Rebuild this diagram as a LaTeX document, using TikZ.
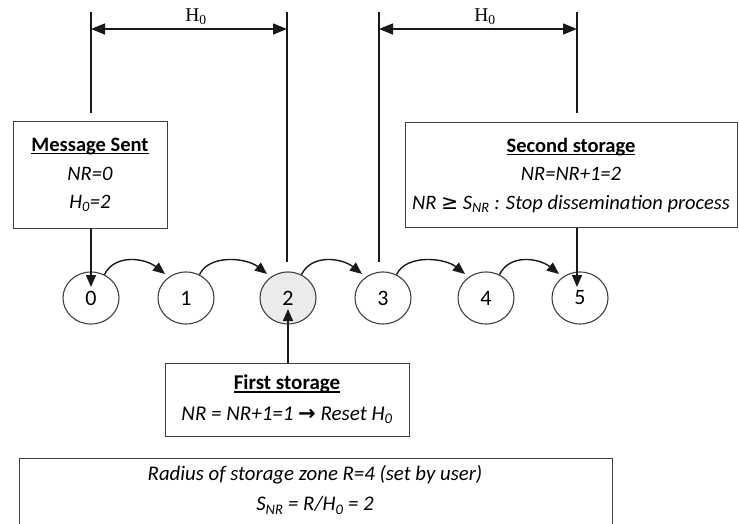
\documentclass[tikz,border=0pt]{standalone}
\usepackage{fontspec}
\setmainfont{Carlito}
\newfontfamily\serifH{Liberation Serif}
\newfontfamily\symf{DejaVu Sans}
\usetikzlibrary{arrows.meta,shapes.geometric}
\newcommand\myul[1]{\setbox0\hbox{#1}\rlap{\rule[-2.8pt]{\wd0}{1.1pt}}\box0}
\begin{document}
\begin{tikzpicture}[x=1pt,y=-1pt,
  arr/.style={-{Triangle[length=12pt,width=10pt]}, line width=1.4pt, draw=black!90},
  dim/.style={{Triangle[length=14pt,width=11pt]}-{Triangle[length=14pt,width=11pt]}, line width=1.4pt, draw=black!90},
  guide/.style={line width=1.4pt, draw=black!90},
  boxline/.style={draw=black!75, line width=1pt},
  box/.style={boxline, fill=white, align=center, inner sep=0pt, font=\fontsize{20.5}{28.5}\selectfont},
  hop/.style={draw=black!75, line width=1.1pt, ellipse, minimum width=56pt, minimum height=52pt, inner sep=0pt, font=\fontsize{22}{24}\selectfont},
  hlabel/.style={font=\serifH\fontsize{19.5}{19.5}\selectfont, inner sep=0pt},
]
\useasboundingbox (0,0) rectangle (739,524);
\clip (0,0) rectangle (739,524);

% hop nodes
\node[hop] (n0) at (91,298) {0};
\node[hop] (n1) at (186,298) {1};
\node[hop, fill=black!8] (n2) at (288,298) {2};
\node[hop] (n3) at (383,298) {3};
\node[hop] (n4) at (486,298) {4};
\node[hop] (n5) at (580,298) {5};

% boxes
\node[box, minimum width=154pt, minimum height=106pt] (sent) at (90,175)
  {\myul{\textbf{Message Sent}}\\\textit{NR=0}\\\textit{H\textsubscript{0}=2}};
\node[box, minimum width=332pt, minimum height=105pt] (second) at (571,175)
  {\myul{\textbf{Second storage}}\\\textit{NR=NR+1=2}\\\textit{NR {\symf≥} S\textsubscript{NR} : Stop dissemination process}};
\node[box, minimum width=244pt, minimum height=73pt, font=\fontsize{21}{31}\selectfont] (first) at (287,399.5)
  {\myul{\textbf{First storage}}\\\textit{NR = NR+1=1 {\symf\bfseries →} Reset H\textsubscript{0}}};

% bottom zone
\node[align=center, inner sep=0pt, font=\fontsize{20.8}{30}\selectfont] (zone) at (315,490)
  {\textit{Radius of storage zone R=4 (set by user)}\\\textit{S\textsubscript{NR} = R/H\textsubscript{0} = 2}};
\draw[boxline] (19,545) |- (612,458) -- (612,545);

% guide lines
\coordinate (g0t) at (91,12);  \coordinate (g0b) at (91,113);
\coordinate (g2t) at (287,12); \coordinate (g2b) at (287,262);
\coordinate (g3t) at (379,12); \coordinate (g3b) at (379,262);
\coordinate (g5t) at (577,12); \coordinate (g5b) at (577,113);
\draw[guide] (g0t) -- (g0b);
\draw[guide] (g2t) -- (g2b);
\draw[guide] (g3t) -- (g3b);
\draw[guide] (g5t) -- (g5b);

% dimension arrows
\coordinate (d0) at (91,29);  \coordinate (d2) at (287,29);
\coordinate (d3) at (379,29); \coordinate (d5) at (577,29);
\draw[dim] (d0) -- (d2);
\draw[dim] (d3) -- (d5);
\node[hlabel] (h1) at (196,17) {H\textsubscript{0}};
\node[hlabel] (h2) at (485,17) {H\textsubscript{0}};

% vertical arrows into nodes
\coordinate (tip0) at (91,287);
\coordinate (tip5) at (577,287);
\draw[arr] (sent.south -| tip0) -- (tip0);
\draw[arr] (second.south -| tip5) -- (tip5);
\draw[arr] (first.north -| n2) -- ([yshift=-11pt]n2.center);

% hop arrows
\foreach \a/\b in {n0/n1, n1/n2, n2/n3, n3/n4, n4/n5}
  \draw[arr] (\a.60) .. controls +(10pt,21pt) and +(-20pt,16pt) .. ([xshift=-21pt,yshift=24pt]\b.center);
\end{tikzpicture}
\end{document}
